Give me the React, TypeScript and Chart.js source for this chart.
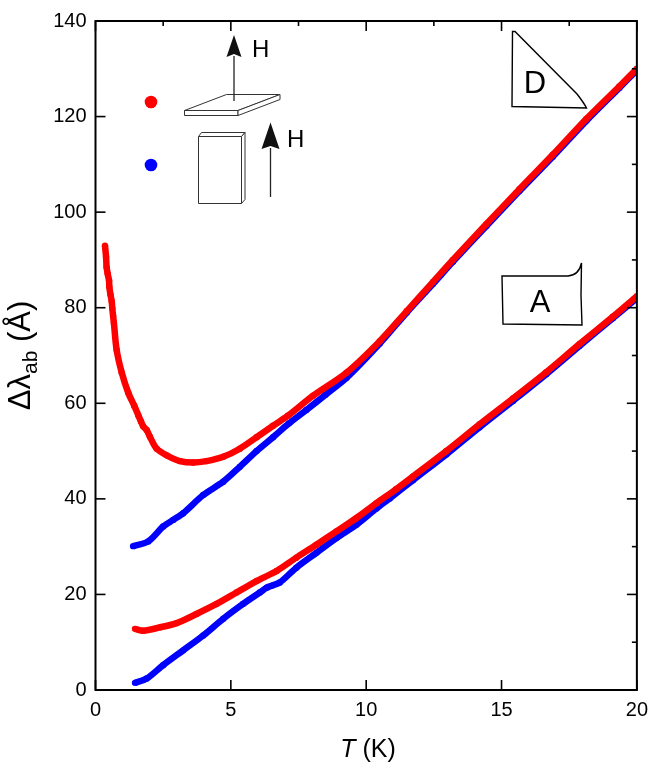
import { useEffect, useRef } from 'react';
import { Chart, registerables } from 'chart.js';
import type { Plugin } from 'chart.js';

Chart.register(...registerables);

const FONT = '"Liberation Sans", Arial, sans-serif';

// sample D, H perpendicular to the plate (red)
const dPerpT = [0.35, 0.39, 0.41, 0.45, 0.50, 0.51, 0.55, 0.60, 0.62, 0.65, 0.68, 0.78, 0.97, 1.21, 1.43, 1.58, 1.68, 1.76, 1.89, 2.01, 2.26, 2.63, 3.12, 3.61, 4.10, 4.72, 5.33, 5.95, 6.56, 7.11, 8.04, 9.27, 10.50, 11.50, 12.47, 13.20, 14.44, 15.66, 16.89, 18.13, 19.35, 20.0];
const dPerpV = [93.0, 90.6, 88.5, 87.1, 85.7, 84.4, 82.8, 81.3, 79.9, 78.3, 76.8, 71.2, 66.4, 62.2, 59.5, 57.5, 56.2, 55.2, 54.4, 53.0, 50.5, 49.1, 47.9, 47.6, 47.9, 48.8, 50.5, 52.9, 55.3, 57.4, 61.6, 66.4, 73.0, 79.3, 85.4, 90.0, 97.5, 104.8, 112.0, 119.5, 126.3, 130.0];

// sample D, H in the plate (blue)
const dParaT = [1.39, 1.95, 2.50, 2.87, 3.24, 3.98, 4.72, 5.33, 5.95, 6.56, 7.15, 7.79, 8.50, 9.27, 10.50, 11.50, 12.47, 13.20, 14.44, 15.66, 16.89, 18.13, 19.35, 20.0];
const dParaV = [30.1, 31.1, 34.2, 35.6, 37.0, 40.8, 43.6, 46.7, 50.0, 52.9, 55.8, 58.6, 61.8, 65.3, 72.5, 79.0, 85.0, 89.6, 97.1, 104.4, 111.6, 119.1, 126.0, 129.7];

// sample A, red and blue
const aPerpT = [1.46, 1.76, 2.38, 3.00, 3.73, 4.47, 5.21, 5.95, 6.69, 7.42, 8.16, 8.90, 9.64, 10.38, 11.10, 11.73, 12.96, 14.19, 15.42, 16.65, 17.88, 19.11, 20.0];
const aPerpV = [12.8, 12.4, 13.1, 14.0, 15.9, 18.0, 20.4, 22.8, 24.9, 27.7, 30.4, 33.2, 36.0, 39.1, 42.0, 44.7, 50.0, 55.6, 61.0, 66.5, 72.4, 78.1, 82.4];
const aParaT = [1.46, 1.89, 2.50, 3.24, 3.98, 4.72, 5.45, 6.07, 6.32, 6.50, 6.81, 7.42, 8.16, 8.90, 9.64, 10.38, 10.87, 11.73, 12.96, 14.19, 15.42, 16.65, 17.88, 19.11, 20.0];
const aParaV = [1.5, 2.4, 5.2, 8.3, 11.4, 14.9, 18.0, 20.4, 21.4, 21.8, 22.5, 25.6, 28.7, 31.8, 34.6, 38.0, 40.1, 43.9, 49.3, 55.0, 60.5, 66.1, 72.0, 77.8, 82.0];

const xTickValues = [0, 5, 10, 15, 20];
const yTickValues = [0, 20, 40, 60, 80, 100, 120, 140];
const xMinorTicks = [2.5, 7.5, 12.5, 17.5];
const yMinorTicks = [10, 30, 50, 70, 90, 110, 130];

const RED = '#ff0000';
const BLUE = '#0000ff';

const toPoints = (t: number[], v: number[]) => t.map((x, i) => ({ x, y: v[i] }));

const decorations: Plugin<'scatter'> = {
    id: 'decorations',
    afterDatasetsDraw(chart) {
        const { ctx, chartArea: a, scales } = chart;
        const sx = scales.x;
        const sy = scales.y;
        ctx.save();
        ctx.strokeStyle = '#000';
        ctx.fillStyle = '#000';

        // frame
        ctx.lineWidth = 2;
        ctx.strokeRect(a.left, a.top, a.right - a.left, a.bottom - a.top);

        // inward ticks
        ctx.lineWidth = 1.6;
        const seg = (x1: number, y1: number, x2: number, y2: number) => {
            ctx.beginPath();
            ctx.moveTo(x1, y1);
            ctx.lineTo(x2, y2);
            ctx.stroke();
        };
        xTickValues.forEach((v) => {
            const px = sx.getPixelForValue(v);
            seg(px, a.bottom, px, a.bottom - 10);
            seg(px, a.top, px, a.top + 10);
        });
        xMinorTicks.forEach((v) => {
            const px = sx.getPixelForValue(v);
            seg(px, a.top, px, a.top + 5);
        });
        yTickValues.forEach((v) => {
            const py = sy.getPixelForValue(v);
            seg(a.left, py, a.left + 10, py);
            seg(a.right, py, a.right - 10, py);
        });
        yMinorTicks.forEach((v) => {
            const py = sy.getPixelForValue(v);
            seg(a.right, py, a.right - 5, py);
        });

        // legend dots
        ctx.fillStyle = RED;
        ctx.beginPath();
        ctx.arc(151, 102, 6.3, 0, Math.PI * 2);
        ctx.fill();
        ctx.fillStyle = BLUE;
        ctx.beginPath();
        ctx.arc(151, 165, 6.3, 0, Math.PI * 2);
        ctx.fill();

        // plate with field perpendicular
        ctx.strokeStyle = '#333';
        ctx.fillStyle = '#fff';
        ctx.lineWidth = 1;
        const poly = (pts: number[][]) => {
            ctx.beginPath();
            pts.forEach(([px, py], i) => (i ? ctx.lineTo(px, py) : ctx.moveTo(px, py)));
            ctx.closePath();
            ctx.fill();
            ctx.stroke();
        };
        poly([[184.5, 110.5], [226.5, 94.5], [280, 94.5], [238, 110.5]]);
        poly([[184.5, 110.5], [238, 110.5], [238, 115.5], [184.5, 115.5]]);
        poly([[238, 110.5], [280, 94.5], [280, 99.5], [238, 115.5]]);

        // block with field in plane
        poly([[198.5, 136.5], [201.5, 132.5], [245, 132.5], [241.5, 136.5]]);
        poly([[241.5, 136.5], [245, 132.5], [245, 199.5], [241.5, 203.5]]);
        poly([[198.5, 136.5], [241.5, 136.5], [241.5, 203.5], [198.5, 203.5]]);

        // arrows
        const arrow = (x0: number, yBase: number, yTip: number, headBase: number, half: number) => {
            ctx.strokeStyle = '#222';
            ctx.lineWidth = 1.3;
            seg(x0, yBase, x0, headBase);
            ctx.fillStyle = '#111';
            ctx.beginPath();
            ctx.moveTo(x0, yTip);
            ctx.lineTo(x0 + half, headBase + 1);
            ctx.lineTo(x0, headBase - 2);
            ctx.lineTo(x0 - half, headBase + 1);
            ctx.closePath();
            ctx.fill();
        };
        arrow(234, 101, 35, 56, 7.5);
        arrow(270.5, 197, 122.5, 148, 9);

        ctx.fillStyle = '#000';
        ctx.font = `24px ${FONT}`;
        ctx.textAlign = 'left';
        ctx.textBaseline = 'alphabetic';
        ctx.fillText('H', 252, 57);
        ctx.fillText('H', 287, 147);

        // sample labels
        ctx.strokeStyle = '#000';
        ctx.lineWidth = 1.4;
        ctx.beginPath();
        ctx.moveTo(512.5, 31.5);
        ctx.lineTo(515, 31.5);
        ctx.lineTo(577, 94);
        ctx.quadraticCurveTo(584, 103, 586.5, 108);
        ctx.lineTo(512, 106.5);
        ctx.closePath();
        ctx.fillStyle = '#fff';
        ctx.fill();
        ctx.stroke();

        ctx.beginPath();
        ctx.moveTo(502, 276);
        ctx.lineTo(568, 276);
        ctx.quadraticCurveTo(579, 275, 581.5, 263);
        ctx.lineTo(581, 295);
        ctx.lineTo(582, 325);
        ctx.lineTo(503, 324);
        ctx.lineTo(502.5, 300);
        ctx.closePath();
        ctx.fill();
        ctx.stroke();

        ctx.fillStyle = '#000';
        ctx.font = `31px ${FONT}`;
        ctx.textAlign = 'center';
        ctx.fillText('D', 535, 93);
        ctx.fillText('A', 540, 312);

        ctx.restore();
    },
    afterDraw(chart) {
        const { ctx, chartArea: a } = chart;
        ctx.save();
        ctx.fillStyle = '#000';
        ctx.textBaseline = 'alphabetic';
        ctx.textAlign = 'left';

        // x title: T (K)
        ctx.font = `italic 25px ${FONT}`;
        const wT = ctx.measureText('T').width;
        ctx.font = `25px ${FONT}`;
        const wK = ctx.measureText(' (K)').width;
        let x0 = 368 - (wT + wK) / 2;
        ctx.font = `italic 25px ${FONT}`;
        ctx.fillText('T', x0, 757);
        ctx.font = `25px ${FONT}`;
        ctx.fillText(' (K)', x0 + wT, 757);

        // y title: Δλab (Å)
        ctx.translate(30, (a.top + a.bottom) / 2);
        ctx.rotate(-Math.PI / 2);
        ctx.font = `31px ${FONT}`;
        const w1 = ctx.measureText('Δλ').width;
        const w3 = ctx.measureText(' (Å)').width;
        ctx.font = `21px ${FONT}`;
        const w2 = ctx.measureText('ab').width;
        x0 = -(w1 + w2 + w3) / 2;
        ctx.font = `31px ${FONT}`;
        ctx.fillText('Δλ', x0, 0);
        ctx.font = `21px ${FONT}`;
        ctx.fillText('ab', x0 + w1, 7);
        ctx.font = `31px ${FONT}`;
        ctx.fillText(' (Å)', x0 + w1 + w2, 0);
        ctx.restore();
    },
};

const PenetrationChart: React.FC = () => {
    const chartRef = useRef<HTMLCanvasElement | null>(null);

    useEffect(() => {
        document.body.style.margin = '0';
        const ctx = chartRef.current?.getContext('2d');
        if (!ctx) return;

        const line = (t: number[], v: number[], color: string, order: number) => ({
            data: toPoints(t, v),
            showLine: true,
            borderColor: color,
            backgroundColor: color,
            borderWidth: 6.5,
            pointRadius: 3.2,
            pointBorderWidth: 0,
            tension: 0.3,
            order,
        });

        const chart = new Chart(ctx, {
            type: 'scatter',
            data: {
                datasets: [
                    line(dParaT, dParaV, BLUE, 2),
                    line(aParaT, aParaV, BLUE, 2),
                    line(dPerpT, dPerpV, RED, 1),
                    line(aPerpT, aPerpV, RED, 1),
                ],
            },
            options: {
                responsive: false,
                animation: false,
                devicePixelRatio: 1,
                layout: { padding: { left: 0, right: 19, top: 15, bottom: 0 } },
                plugins: {
                    legend: { display: false },
                    tooltip: { enabled: false },
                },
                scales: {
                    x: {
                        type: 'linear',
                        min: 0,
                        max: 20,
                        grid: { display: false, drawTicks: false },
                        border: { display: false },
                        afterBuildTicks: (s) => {
                            s.ticks = xTickValues.map((value) => ({ value }));
                        },
                        afterFit: (s) => {
                            s.height = 81;
                        },
                        ticks: {
                            color: '#000',
                            padding: 8,
                            maxRotation: 0,
                            font: { family: FONT, size: 20 },
                        },
                    },
                    y: {
                        type: 'linear',
                        min: 0,
                        max: 140,
                        grid: { display: false, drawTicks: false },
                        border: { display: false },
                        afterBuildTicks: (s) => {
                            s.ticks = yTickValues.map((value) => ({ value }));
                        },
                        afterFit: (s) => {
                            s.width = 95.5;
                        },
                        ticks: {
                            color: '#000',
                            padding: 9,
                            font: { family: FONT, size: 20 },
                        },
                    },
                },
            },
            plugins: [decorations],
        });

        return () => {
            chart.destroy();
        };
    }, []);

    return <canvas ref={chartRef} width={656} height={771} style={{ display: 'block', width: '656px', height: '771px' }}></canvas>;
};

export default function App() {
    return <PenetrationChart />;
}
